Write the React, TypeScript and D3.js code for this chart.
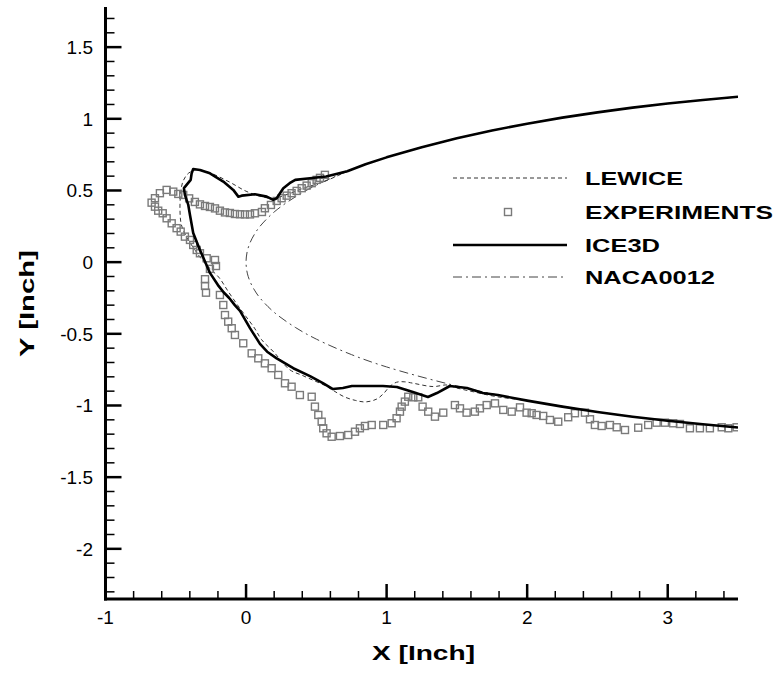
import React from "react";
import * as d3 from "d3";

// ---- Data (inches) ----
const nacaX = [3.5, 3.0, 2.5, 2.0, 1.5, 1.0, 0.75, 0.5, 0.35, 0.2, 0.1, 0.06, 0.03, 0.01, 0.002, 0, 0.002, 0.01, 0.03, 0.06, 0.1, 0.2, 0.35, 0.5, 0.75, 1.0, 1.5, 2.0, 2.5, 3.0, 3.5];
const nacaY = [1.154, 1.107, 1.045, 0.966, 0.864, 0.731, 0.645, 0.537, 0.455, 0.35, 0.251, 0.195, 0.139, 0.082, 0.036, 0, -0.036, -0.082, -0.139, -0.195, -0.251, -0.35, -0.455, -0.537, -0.645, -0.731, -0.864, -0.966, -1.045, -1.107, -1.154];

const lewiceX = [3.5, 3.0, 2.5, 2.0, 1.5, 1.0, 0.75, 0.55, 0.42, 0.3, 0.19, 0.1, 0.0, -0.12, -0.25, -0.35, -0.41, -0.45, -0.465, -0.47, -0.46, -0.42, -0.36, -0.3, -0.24, -0.19, -0.13, -0.06, 0.0, 0.06, 0.11, 0.2, 0.31, 0.4, 0.48, 0.56, 0.62, 0.7, 0.78, 0.85, 0.93, 0.98, 1.02, 1.07, 1.13, 1.19, 1.33, 1.43, 1.5, 1.62, 1.78, 2.0, 2.5, 3.0, 3.5];
const lewiceY = [1.154, 1.107, 1.045, 0.966, 0.864, 0.731, 0.645, 0.56, 0.52, 0.475, 0.445, 0.46, 0.495, 0.56, 0.62, 0.645, 0.62, 0.56, 0.48, 0.36, 0.26, 0.17, 0.08, 0.0, -0.06, -0.11, -0.2, -0.3, -0.38, -0.46, -0.54, -0.63, -0.75, -0.79, -0.825, -0.86, -0.895, -0.94, -0.965, -0.975, -0.955, -0.915, -0.87, -0.838, -0.835, -0.845, -0.868, -0.857, -0.878, -0.905, -0.938, -0.966, -1.045, -1.107, -1.154];

const iceX = [3.5, 3.25, 3.0, 2.75, 2.5, 2.25, 2.0, 1.75, 1.5, 1.25, 1.0, 0.85, 0.72, 0.57, 0.455, 0.35, 0.31, 0.265, 0.218, 0.194, 0.147, 0.063, -0.031, -0.055, -0.091, -0.162, -0.257, -0.328, -0.376, -0.387, -0.394, -0.423, -0.442, -0.435, -0.411, -0.399, -0.376, -0.328, -0.29, -0.257, -0.2, -0.16, -0.12, -0.08, -0.043, 0.028, 0.099, 0.15, 0.218, 0.336, 0.455, 0.547, 0.618, 0.689, 0.753, 0.974, 1.073, 1.187, 1.294, 1.358, 1.45, 1.571, 1.685, 1.792, 2.0, 2.25, 2.5, 2.75, 3.0, 3.25, 3.5];
const iceY = [1.154, 1.131, 1.107, 1.078, 1.045, 1.008, 0.966, 0.918, 0.864, 0.802, 0.731, 0.683, 0.634, 0.597, 0.585, 0.574, 0.551, 0.516, 0.446, 0.434, 0.457, 0.474, 0.464, 0.457, 0.504, 0.562, 0.62, 0.643, 0.65, 0.62, 0.574, 0.539, 0.516, 0.469, 0.399, 0.329, 0.204, 0.085, 0.0, -0.075, -0.16, -0.21, -0.25, -0.3, -0.34, -0.46, -0.57, -0.625, -0.671, -0.74, -0.795, -0.844, -0.885, -0.878, -0.864, -0.864, -0.871, -0.906, -0.941, -0.913, -0.864, -0.878, -0.913, -0.927, -0.966, -1.008, -1.045, -1.078, -1.107, -1.131, -1.154];

const expX = [0.561, 0.526, 0.502, 0.467, 0.431, 0.396, 0.36, 0.324, 0.289, 0.253, 0.218, 0.177, 0.134, 0.113, 0.063, 0.028, -0.008, -0.043, -0.079, -0.115, -0.15, -0.186, -0.221, -0.257, -0.292, -0.328, -0.364, -0.405, -0.447, -0.482, -0.518, -0.565, -0.613, -0.648, -0.672, -0.648, -0.625, -0.593, -0.565, -0.529, -0.494, -0.465, -0.435, -0.399, -0.376, -0.351, -0.328, -0.28, -0.221, -0.214, -0.257, -0.292, -0.292, -0.285, -0.186, -0.162, -0.15, -0.127, -0.102, -0.079, -0.02, 0.04, 0.087, 0.134, 0.182, 0.229, 0.277, 0.324, 0.383, 0.467, 0.49, 0.514, 0.538, 0.549, 0.573, 0.609, 0.668, 0.727, 0.775, 0.81, 0.846, 0.894, 0.976, 1.036, 1.071, 1.095, 1.107, 1.13, 1.154, 1.19, 1.225, 1.256, 1.296, 1.344, 1.403, 1.486, 1.522, 1.569, 1.628, 1.664, 1.712, 1.771, 1.83, 1.89, 1.949, 1.996, 2.032, 2.067, 2.114, 2.162, 2.221, 2.292, 2.34, 2.411, 2.447, 2.482, 2.53, 2.589, 2.637, 2.696, 2.79, 2.861, 2.921, 2.98, 3.039, 3.087, 3.158, 3.229, 3.3, 3.384, 3.431, 3.49];
const expY = [0.609, 0.588, 0.574, 0.551, 0.534, 0.516, 0.497, 0.481, 0.464, 0.446, 0.427, 0.399, 0.376, 0.35, 0.341, 0.333, 0.333, 0.334, 0.336, 0.343, 0.347, 0.359, 0.375, 0.385, 0.392, 0.403, 0.42, 0.445, 0.469, 0.476, 0.492, 0.504, 0.481, 0.446, 0.415, 0.387, 0.359, 0.341, 0.306, 0.271, 0.237, 0.213, 0.178, 0.155, 0.12, 0.085, 0.062, 0.027, 0.015, -0.027, -0.047, -0.119, -0.166, -0.213, -0.229, -0.299, -0.369, -0.415, -0.461, -0.508, -0.566, -0.636, -0.671, -0.706, -0.74, -0.787, -0.845, -0.869, -0.927, -0.939, -1.008, -1.066, -1.113, -1.159, -1.194, -1.218, -1.213, -1.206, -1.183, -1.159, -1.143, -1.136, -1.136, -1.124, -1.089, -1.043, -1.008, -0.973, -0.939, -0.943, -0.943, -1.008, -1.043, -1.078, -1.05, -0.997, -1.02, -1.05, -1.043, -1.02, -0.997, -0.985, -1.031, -1.043, -1.013, -1.05, -1.054, -1.066, -1.073, -1.101, -1.113, -1.082, -1.054, -1.05, -1.096, -1.136, -1.143, -1.136, -1.152, -1.171, -1.155, -1.136, -1.12, -1.12, -1.124, -1.129, -1.159, -1.159, -1.159, -1.152, -1.159, -1.152];

const xMajorTicks = [-1, 0, 1, 2, 3];
const xTickLabels = ["-1", "0", "1", "2", "3"];
const yMajorTicks = [-2, -1.5, -1, -0.5, 0, 0.5, 1, 1.5];
const yTickLabels = ["-2", "-1.5", "-1", "-0.5", "0", "0.5", "1", "1.5"];

const legendNames = ["LEWICE", "EXPERIMENTS", "ICE3D", "NACA0012"];
const legendWidths = [98, 188, 75, 130];

const FONT = "'Liberation Sans', Arial, Helvetica, sans-serif";

export default function App() {
  const W = 777, H = 676;
  const x = d3.scaleLinear().domain([-1, 3.5]).range([105.5, 738]);
  const y = d3.scaleLinear().domain([-2.35, 1.78]).range([599, 7]);

  const xMinor = d3.range(-0.8, 3.5, 0.2).filter((v) => Math.abs(v - Math.round(v)) > 1e-6);
  const yMinor = d3.range(-2.3, 1.75, 0.1).filter((v) => Math.abs(v * 2 - Math.round(v * 2)) > 1e-6);

  const smooth = d3.line<[number, number]>().x((d) => x(d[0])).y((d) => y(d[1])).curve(d3.curveCatmullRom.alpha(0.5));
  const straight = d3.line<[number, number]>().x((d) => x(d[0])).y((d) => y(d[1]));

  const naca = nacaX.map((v, i) => [v, nacaY[i]] as [number, number]);
  const lewice = lewiceX.map((v, i) => [v, lewiceY[i]] as [number, number]);
  const ice = iceX.map((v, i) => [v, iceY[i]] as [number, number]);
  const exp = expX.map((v, i) => [v, expY[i]] as [number, number]);

  const axisX0 = x(-1);
  const axisY0 = y(-2.35);

  const legRows = [178, 212, 245, 277];
  const legX1 = 453, legX2 = 567, legText = 585;

  return (
    <svg width={W} height={H} style={{ position: "absolute", left: 0, top: 0, background: "#fff" }}>
      <rect x={0} y={0} width={W} height={H} fill="#fff" />
      <defs>
        <clipPath id="plotclip">
          <rect x={axisX0} y={y(1.78)} width={x(3.5) - axisX0} height={axisY0 - y(1.78)} />
        </clipPath>
      </defs>
      <g clipPath="url(#plotclip)">
        <path d={smooth(naca) || ""} fill="none" stroke="#444" strokeWidth={1} strokeDasharray="9,4,2,4" />
        <path d={smooth(lewice) || ""} fill="none" stroke="#333" strokeWidth={1} strokeDasharray="4,3" />
        {exp.map((d, i) => (
          <rect key={i} x={x(d[0]) - 3.5} y={y(d[1]) - 3.5} width={7} height={7} fill="none" stroke="#7a7a7a" strokeWidth={1.4} />
        ))}
        <path d={straight(ice) || ""} fill="none" stroke="#000" strokeWidth={2.6} strokeLinejoin="round" />
      </g>

      {/* axes */}
      <line x1={axisX0} y1={y(1.78)} x2={axisX0} y2={axisY0 + 1.5} stroke="#000" strokeWidth={3} />
      <line x1={axisX0 - 1.5} y1={axisY0} x2={x(3.5)} y2={axisY0} stroke="#000" strokeWidth={3} />

      {yMajorTicks.map((v, i) => (
        <g key={"ym" + i}>
          <line x1={axisX0} x2={axisX0 + 16} y1={y(v)} y2={y(v)} stroke="#000" strokeWidth={2.5} />
          <text x={93} y={y(v) + 7} textAnchor="end" fontFamily={FONT} fontSize={19} fill="#000">{yTickLabels[i]}</text>
        </g>
      ))}
      {yMinor.map((v, i) => (
        <line key={"yn" + i} x1={axisX0} x2={axisX0 + 9} y1={y(v)} y2={y(v)} stroke="#000" strokeWidth={1.5} />
      ))}
      {xMajorTicks.map((v, i) => (
        <g key={"xm" + i}>
          <line x1={x(v)} x2={x(v)} y1={axisY0} y2={axisY0 - 15} stroke="#000" strokeWidth={2.5} />
          <text x={x(v)} y={624} textAnchor="middle" fontFamily={FONT} fontSize={19} fill="#000">{xTickLabels[i]}</text>
        </g>
      ))}
      {xMinor.map((v, i) => (
        <line key={"xn" + i} x1={x(v)} x2={x(v)} y1={axisY0} y2={axisY0 - 8} stroke="#000" strokeWidth={1.5} />
      ))}

      {/* axis titles */}
      <text x={372} y={660} fontFamily={FONT} fontWeight="bold" fontSize={20} textLength={103} lengthAdjust="spacingAndGlyphs" fill="#000">X [Inch]</text>
      <text transform="translate(34,357) rotate(-90)" x={0} y={0} fontFamily={FONT} fontWeight="bold" fontSize={20} textLength={107} lengthAdjust="spacingAndGlyphs" fill="#000">Y [Inch]</text>

      {/* legend */}
      <line x1={legX1} x2={legX2} y1={legRows[0]} y2={legRows[0]} stroke="#333" strokeWidth={1} strokeDasharray="4,3" />
      <rect x={508 - 3.5} y={legRows[1] - 3.5} width={7} height={7} fill="none" stroke="#7a7a7a" strokeWidth={1.4} />
      <line x1={legX1} x2={legX2} y1={legRows[2]} y2={legRows[2]} stroke="#000" strokeWidth={2.6} />
      <line x1={legX1} x2={legX2} y1={legRows[3]} y2={legRows[3]} stroke="#444" strokeWidth={1} strokeDasharray="9,4,2,4" />
      {legendNames.map((n, i) => (
        <text key={n} x={legText} y={legRows[i] + 6.5} fontFamily={FONT} fontWeight="bold" fontSize={18} textLength={legendWidths[i]} lengthAdjust="spacingAndGlyphs" fill="#000">{n}</text>
      ))}
    </svg>
  );
}
